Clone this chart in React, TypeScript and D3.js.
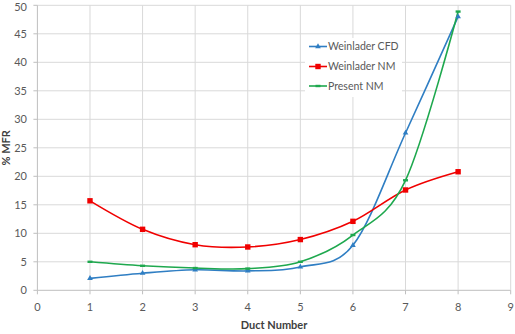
import React from "react";
import * as d3 from "d3";

// Duct numbers and % mass-flow-rate share per series
const ducts = [1, 2, 3, 4, 5, 6, 7, 8];
const weinladerCFD = [2.1, 3.0, 3.6, 3.4, 4.1, 7.9, 27.6, 48.0];
const weinladerNM = [15.7, 10.7, 8.0, 7.6, 8.9, 12.1, 17.6, 20.8];
const presentNM = [5.0, 4.3, 3.9, 3.8, 5.0, 9.7, 19.3, 48.9];

const xTicks = [0, 1, 2, 3, 4, 5, 6, 7, 8, 9];
const yTicks = [0, 5, 10, 15, 20, 25, 30, 35, 40, 45, 50];

const seriesNames = ["Weinlader CFD", "Weinlader NM", "Present NM"];

const W = 515;
const H = 334;
const plot = { left: 37.4, right: 510.7, top: 5.3, bottom: 290.3 };

const colors = ["#2f7ec3", "#f00000", "#1ea84e"];
const font = "Lato, 'Open Sans', sans-serif";

export default function App() {
  const x = d3.scaleLinear().domain([0, 9]).range([plot.left, plot.right]);
  const y = d3.scaleLinear().domain([0, 50]).range([plot.bottom, plot.top]);

  const line = d3
    .line<[number, number]>()
    .x((d) => x(d[0]))
    .y((d) => y(d[1]))
    .curve(d3.curveCatmullRom.alpha(0));

  const series = [weinladerCFD, weinladerNM, presentNM].map((vals) =>
    ducts.map((d, i) => [d, vals[i]] as [number, number])
  );

  const marker = (k: number, cx: number, cy: number, key: string) => {
    const c = colors[k];
    if (k === 0) {
      const p = d3.symbol().type(d3.symbolTriangle).size(14)();
      return <path key={key} d={p || ""} transform={`translate(${cx},${cy})`} fill={c} />;
    }
    if (k === 1) {
      return <rect key={key} x={cx - 2.7} y={cy - 2.7} width={5.4} height={5.4} fill={c} />;
    }
    return <rect key={key} x={cx - 2.5} y={cy - 1.2} width={5} height={2.4} fill={c} />;
  };

  const legendY = [46.5, 66.5, 86];
  const legendBox = { x: 305, y: 38, w: 97, h: 59 };

  return (
    <svg
      width={W}
      height={H}
      style={{ position: "absolute", left: 0, top: 0, background: "#fff" }}
      fontFamily={font}
    >
      {/* horizontal gridlines */}
      {yTicks.map((t) => (
        <line
          key={`gy${t}`}
          x1={plot.left}
          x2={plot.right}
          y1={y(t)}
          y2={y(t)}
          stroke={t === 0 ? "#bfbfbf" : "#d9d9d9"}
          strokeWidth={1}
        />
      ))}
      {/* vertical gridlines */}
      {xTicks.map((t) => (
        <line
          key={`gx${t}`}
          x1={x(t)}
          x2={x(t)}
          y1={plot.top}
          y2={plot.bottom}
          stroke={t === 0 ? "#bfbfbf" : "#d9d9d9"}
          strokeWidth={1}
        />
      ))}
      {/* tick marks */}
      {yTicks.map((t) => (
        <line key={`ty${t}`} x1={plot.left - 4} x2={plot.left} y1={y(t)} y2={y(t)} stroke="#bfbfbf" />
      ))}
      {xTicks.map((t) => (
        <line key={`tx${t}`} x1={x(t)} x2={x(t)} y1={plot.bottom} y2={plot.bottom + 4} stroke="#bfbfbf" />
      ))}

      {/* tick labels */}
      {yTicks.map((t) => (
        <text
          key={`ly${t}`}
          x={27}
          y={Math.max(y(t), 7)}
          dy="0.35em"
          textAnchor="end"
          fontSize={11}
          fill="#595959"
        >
          {t}
        </text>
      ))}
      {xTicks.map((t) => (
        <text
          key={`lx${t}`}
          x={x(t)}
          y={307}
          dy="0.35em"
          textAnchor="middle"
          fontSize={11}
          fill="#595959"
        >
          {t}
        </text>
      ))}

      {/* axis titles */}
      <text
        x={(plot.left + plot.right) / 2}
        y={329}
        textAnchor="middle"
        fontSize={11}
        fontWeight="bold"
        fill="#404040"
      >
        Duct Number
      </text>
      <text
        transform={`translate(10,${(plot.top + plot.bottom) / 2}) rotate(-90)`}
        textAnchor="middle"
        fontSize={11}
        fontWeight="bold"
        fill="#404040"
      >
        % MFR
      </text>

      {/* legend */}
      <rect x={legendBox.x} y={legendBox.y} width={legendBox.w} height={legendBox.h} fill="#fff" />
      {seriesNames.map((name, k) => (
        <g key={name}>
          <line x1={309} x2={327} y1={legendY[k]} y2={legendY[k]} stroke={colors[k]} strokeWidth={1.6} />
          {marker(k, 318, legendY[k], `lm${k}`)}
          <text x={328} y={legendY[k]} dy="0.35em" fontSize={10.5} fill="#595959">
            {name}
          </text>
        </g>
      ))}

      {/* series curves */}
      {series.map((s, k) => (
        <path key={`s${k}`} d={line(s) || ""} fill="none" stroke={colors[k]} strokeWidth={1.6} />
      ))}
      {series.map((s, k) => s.map((p, i) => marker(k, x(p[0]), y(p[1]), `m${k}-${i}`)))}
    </svg>
  );
}
